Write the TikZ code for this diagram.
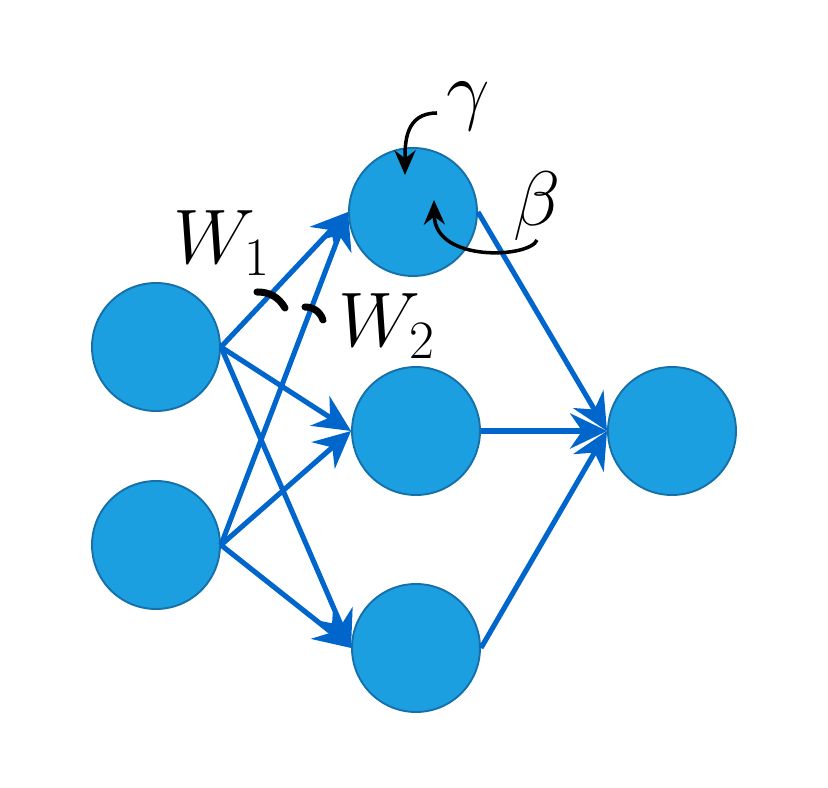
\RequirePackage{fix-cm}
\documentclass[tikz,border=0pt]{standalone}
\usepackage{amsmath}
\usetikzlibrary{positioning, arrows.meta}
\definecolor{neurona}{HTML}{1C9FE0}
\definecolor{borde}{HTML}{1670AA}
\definecolor{flecha}{HTML}{0066CC}

\begin{document}
\begin{tikzpicture}[
    neuron/.style={circle, draw=borde, line width=1.1pt, fill=neurona, minimum size=2.56cm, inner sep=0pt},
    conn/.style={draw=flecha, line width=2.9pt, -{Stealth[length=21pt,width=20pt]}},
    etiqueta/.style={font=\fontsize{44}{50}\selectfont},
    marca/.style={line width=4pt, line cap=round},
    curva/.style={line width=2pt, -{Stealth[length=14pt,width=12pt]}}
]
    \useasboundingbox (0,0) rectangle (16.56,15.76);
    % Neuronas de cada capa
    \node[neuron] (i1) at (3.12,8.82) {};
    \node[neuron] (i2) at (3.12,4.86) {};
    \node[neuron] (h1) at (8.26,11.52) {};
    \node[neuron] (h2) at (8.32,7.14) {};
    \node[neuron] (h3) at (8.32,2.80) {};
    \node[neuron] (o) at (13.44,7.14) {};
    % Conexiones
    \foreach \a in {i1,i2} {
        \foreach \b in {h1,h2,h3} {
            \draw[conn] (\a.east) -- (\b.west);
        }
    }
    \foreach \b in {h1,h2,h3} {
        \draw[conn] (\b.east) -- (o.west);
    }
    % Pesos
    \node[etiqueta] (w1) at (4.44,10.90) {$W_1$};
    \node[etiqueta] (w2) at (7.74,9.24) {$W_2$};
    \draw[marca] (5.14,9.92) to[bend left=30] (5.70,9.60);
    \draw[marca] (6.10,9.62) to[bend left=35] (6.46,9.36);
    % Parametros gamma y beta
    \node[etiqueta] (gamma) at (9.36,13.64) {$\gamma$};
    \node[etiqueta] (beta) at (10.74,11.64) {$\beta$};
    \coordinate (g0) at (8.74,13.50);
    \coordinate (g1) at (8.10,12.26);
    \coordinate (b0) at (10.74,10.96);
    \coordinate (b1) at (8.68,11.76);
    \draw[curva] (g0) .. controls (8.10,13.50) and (8.10,12.90) .. (g1);
    \draw[curva] (b0) .. controls (10.60,10.60) and (8.70,10.50) .. (b1);
\end{tikzpicture}
\end{document}
